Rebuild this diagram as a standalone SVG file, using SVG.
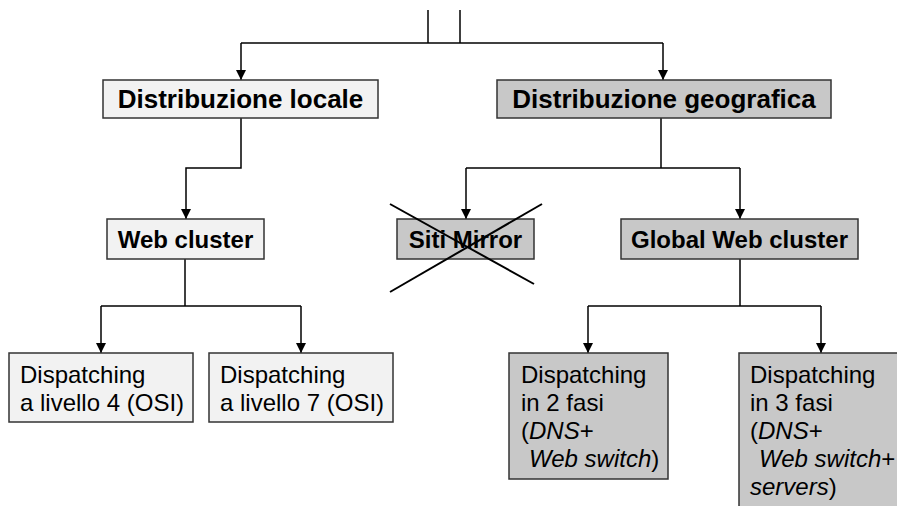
<svg xmlns="http://www.w3.org/2000/svg" width="897" height="506" viewBox="0 0 897 506">
  <style>
    .box-light { fill: #f2f2f2; stroke: #333; stroke-width: 1.5; }
    .box-dark { fill: #c8c8c8; stroke: #333; stroke-width: 1.5; }
    .title { font-family: "Liberation Sans", Arial, sans-serif; font-weight: bold; font-size: 26px; fill: #000; text-anchor: middle; }
    .sub { font-family: "Liberation Sans", Arial, sans-serif; font-weight: bold; font-size: 24px; fill: #000; text-anchor: middle; }
    .body { font-family: "Liberation Sans", Arial, sans-serif; font-size: 24px; fill: #000; }
    .wire { fill: none; stroke: #000; stroke-width: 1.5; }
    .cross { stroke: #000; stroke-width: 2; }
  </style>
  <defs>
    <marker id="arrow" viewBox="0 0 10 10" refX="10" refY="5" markerWidth="10" markerHeight="10" markerUnits="userSpaceOnUse" orient="auto">
      <path d="M0,0 L10,5 L0,10 Z" fill="#000"/>
    </marker>
  </defs>

  <rect width="897" height="506" fill="#fff"/>

  <g id="connectors">
    <line class="wire" x1="428" y1="10" x2="428" y2="43"/>
    <line class="wire" x1="460" y1="10" x2="460" y2="43"/>
    <line class="wire" x1="241" y1="43" x2="663" y2="43"/>
    <line class="wire" x1="241" y1="43" x2="241" y2="80" marker-end="url(#arrow)"/>
    <line class="wire" x1="663" y1="43" x2="663" y2="80" marker-end="url(#arrow)"/>

    <polyline class="wire" points="241,118 241,168 186,168 186,219" marker-end="url(#arrow)"/>

    <line class="wire" x1="661" y1="118" x2="661" y2="168"/>
    <line class="wire" x1="466" y1="168" x2="740" y2="168"/>
    <line class="wire" x1="466" y1="168" x2="466" y2="219" marker-end="url(#arrow)"/>
    <line class="wire" x1="740" y1="168" x2="740" y2="219" marker-end="url(#arrow)"/>

    <line class="wire" x1="185" y1="259" x2="185" y2="306"/>
    <line class="wire" x1="101" y1="306" x2="301" y2="306"/>
    <line class="wire" x1="101" y1="306" x2="101" y2="353" marker-end="url(#arrow)"/>
    <line class="wire" x1="301" y1="306" x2="301" y2="353" marker-end="url(#arrow)"/>

    <line class="wire" x1="740" y1="259" x2="740" y2="306"/>
    <line class="wire" x1="588" y1="306" x2="821" y2="306"/>
    <line class="wire" x1="588" y1="306" x2="588" y2="353" marker-end="url(#arrow)"/>
    <line class="wire" x1="821" y1="306" x2="821" y2="353" marker-end="url(#arrow)"/>
  </g>

  <g id="distribuzione-locale">
    <rect class="box-light" x="103" y="80" width="275" height="38"/>
    <text class="title" x="240.5" y="108">Distribuzione locale</text>
  </g>

  <g id="distribuzione-geografica">
    <rect class="box-dark" x="497" y="80" width="334" height="38"/>
    <text class="title" x="664" y="108">Distribuzione geografica</text>
  </g>

  <g id="web-cluster">
    <rect class="box-light" x="107" y="219" width="157" height="40"/>
    <text class="sub" x="185.5" y="248">Web cluster</text>
  </g>

  <g id="siti-mirror">
    <rect class="box-dark" x="397" y="219" width="137" height="40"/>
    <text class="sub" x="465.5" y="248">Siti Mirror</text>
    <line class="cross" x1="390" y1="204" x2="534" y2="284"/>
    <line class="cross" x1="542" y1="204" x2="390" y2="292"/>
  </g>

  <g id="global-web-cluster">
    <rect class="box-dark" x="621" y="219" width="237" height="40"/>
    <text class="sub" x="739.5" y="248">Global Web cluster</text>
  </g>

  <g id="dispatching-l4">
    <rect class="box-light" x="9" y="353" width="184" height="69"/>
    <text class="body" x="20" y="383">Dispatching</text>
    <text class="body" x="20" y="411">a livello 4 (OSI)</text>
  </g>

  <g id="dispatching-l7">
    <rect class="box-light" x="209" y="353" width="184" height="69"/>
    <text class="body" x="220" y="383">Dispatching</text>
    <text class="body" x="220" y="411">a livello 7 (OSI)</text>
  </g>

  <g id="dispatching-2-fasi">
    <rect class="box-dark" x="509" y="353" width="159" height="126"/>
    <text class="body" x="521" y="383">Dispatching</text>
    <text class="body" x="521" y="411">in 2 fasi</text>
    <text class="body" x="521" y="439">(<tspan font-style="italic">DNS</tspan>+</text>
    <text class="body" x="529" y="467"><tspan font-style="italic">Web switch</tspan>)</text>
  </g>

  <g id="dispatching-3-fasi">
    <rect class="box-dark" x="739" y="353" width="170" height="170"/>
    <text class="body" x="750" y="383">Dispatching</text>
    <text class="body" x="750" y="411">in 3 fasi</text>
    <text class="body" x="750" y="439">(<tspan font-style="italic">DNS</tspan>+</text>
    <text class="body" x="759" y="467"><tspan font-style="italic">Web switch</tspan>+</text>
    <text class="body" x="750" y="495"><tspan font-style="italic">servers</tspan>)</text>
  </g>
</svg>
